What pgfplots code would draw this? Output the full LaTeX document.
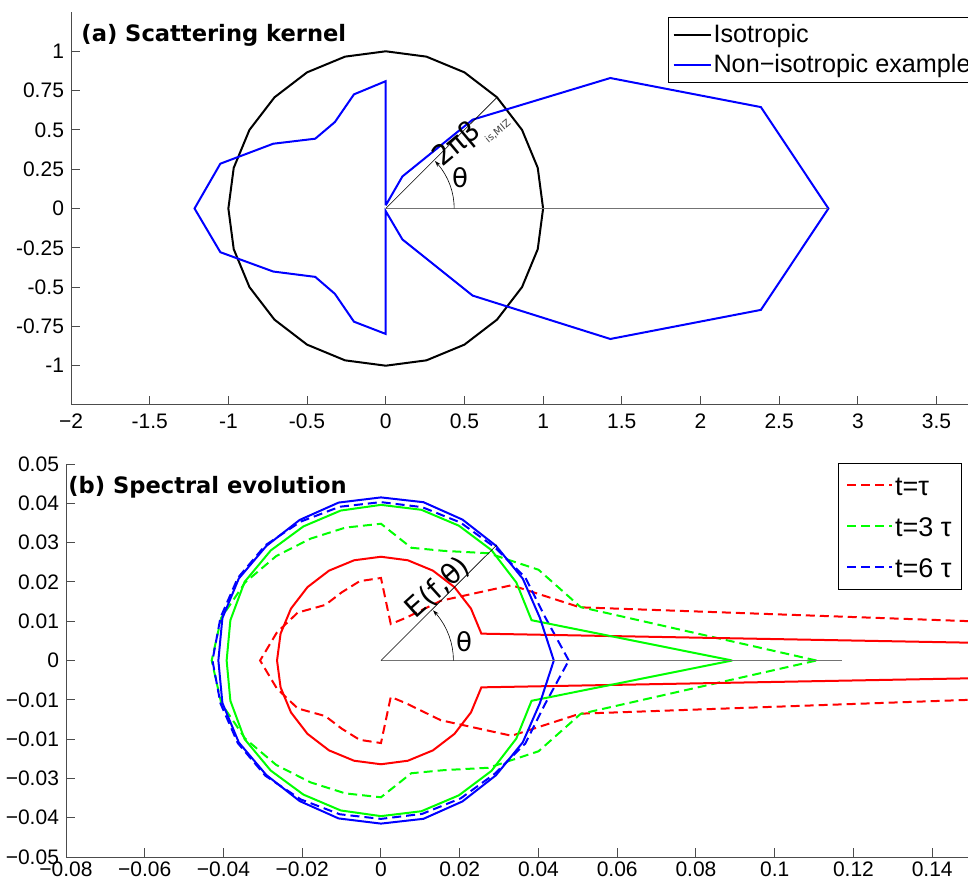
\documentclass[border=0pt]{standalone}
\usepackage{fontspec}
\setmainfont{Liberation Sans}
\newfontfamily\dejavu{DejaVu Sans}
\usepackage{pgfplots}
\pgfplotsset{compat=1.18}
\usetikzlibrary{arrows.meta}
\definecolor{axgray}{gray}{0.3}
\definecolor{refgray}{gray}{0.45}
\begin{document}
\begin{tikzpicture}
\path[use as bounding box] (0,0) rectangle (484pt,-440.5pt);
\pgfplotsset{
  mystyle/.style={
    scale only axis,
    axis x line*=bottom, axis y line*=left,
    axis line style={color=axgray, line width=0.5pt, -},
    tick align=inside,
    major tick length=4.5pt,
    every tick/.style={axgray, line width=0.5pt},
    tick label style={font=\fontsize{10.5}{12}\selectfont, black},
    scaled x ticks=false, scaled y ticks=false,
  },
  mydash/.style={dash pattern=on 4.5pt off 2.5pt},
}
% ---------------- (a) ----------------
\begin{axis}[mystyle, at={(35.5pt,-6pt)}, anchor=north west,
  width=448.5pt, height=196.5pt,
  xmin=-2, xmax=3.7, ymin=-1.25, ymax=1.25,
  xticklabel style={yshift=-1pt},
  xtick={-2,-1.5,-1,-0.5,0,0.5,1,1.5,2,2.5,3,3.5},
  xticklabels={−2,-1.5,-1,-0.5,0,0.5,1,1.5,2,2.5,3,3.5},
  ytick={-1,-0.75,-0.5,-0.25,0,0.25,0.5,0.75,1},
  yticklabels={-1,-0.75,-0.5,-0.25,0,0.25,0.5,0.75,1},
  legend style={at={(rel axis cs:0.6656,0.987)}, anchor=north west,
    draw=black, line width=0.5pt, fill=white,
    font=\fontsize{12.6}{14}\selectfont, inner sep=2pt, row sep=1.5pt,
    nodes={inner sep=1pt, text height=9.5pt, text depth=2pt}},
  legend cell align=left,
  legend image code/.code={\draw[#1] (0pt,0pt) -- (18.5pt,0pt);},
]
\addplot[black, line width=1pt, data cs=polar] coordinates {
(0,1)(15,1)(30,1)(45,1)(60,1)(75,1)(90,1)(105,1)(120,1)(135,1)(150,1)(165,1)
(180,1)(195,1)(210,1)(225,1)(240,1)(255,1)(270,1)(285,1)(300,1)(315,1)(330,1)(345,1)(360,1)};
\addlegendentry{Isotropic}
\addplot[blue, line width=1pt] coordinates {
(0,0.02)(0.106,0.204)(0.552,0.565)(1.427,0.83)(2.384,0.645)(2.813,0)
(2.384,-0.645)(1.427,-0.83)(0.552,-0.554)(0.106,-0.197)(0,-0.017)(0,-0.798)
(-0.202,-0.72)(-0.323,-0.543)(-0.448,-0.435)(-0.715,-0.401)(-1.051,-0.278)(-1.215,0)
(-1.051,0.285)(-0.715,0.412)(-0.448,0.444)(-0.323,0.55)(-0.202,0.726)(0,0.81)(0,0.02)};
\addlegendentry{Non−isotropic example}
\addplot[refgray, line width=0.6pt, forget plot] coordinates {(0,0)(2.813,0)};
\addplot[black, line width=0.3pt, forget plot] coordinates {(0,0)(0.707,0.707)};
\addplot[black, line width=0.3pt, forget plot, data cs=polar, -{Stealth[length=3pt,width=2pt]}] coordinates {
(0,0.435)(5,0.435)(10,0.435)(15,0.435)(20,0.435)(25,0.435)(30,0.435)(35,0.435)(40,0.435)(44,0.435)};
\node[inner sep=0pt, anchor=base west, font=\dejavu\bfseries\fontsize{11.3}{13}\selectfont]
  at (axis cs:-1.936,1.064) {(a) Scattering kernel};
\node[inner sep=0pt, rotate=40, font=\dejavu\fontsize{14}{16}\selectfont] at (axis cs:0.455,0.405) {2πβ};
\node[inner sep=0pt, rotate=40, font=\dejavu\fontsize{5}{6}\selectfont, text=black!75] at (axis cs:0.713,0.49) {is,MIZ};
\node[inner sep=0pt, font=\dejavu\fontsize{13}{15}\selectfont] at (axis cs:0.473,0.196) {θ};
\end{axis}
% ---------------- (b) ----------------
\begin{axis}[mystyle, at={(33pt,-232pt)}, anchor=north west,
  width=451pt, height=196.5pt,
  xmin=-0.08, xmax=0.1491, ymin=-0.05, ymax=0.05,
  xticklabel style={yshift=1.2pt},
  xtick={-0.08,-0.06,-0.04,-0.02,0,0.02,0.04,0.06,0.08,0.1,0.12,0.14},
  xticklabels={−0.08,−0.06,−0.04,−0.02,0,0.02,0.04,0.06,0.08,0.1,0.12,0.14},
  ytick={-0.05,-0.04,-0.03,-0.02,-0.01,0,0.01,0.02,0.03,0.04,0.05},
  yticklabels={−0.05,−0.04,−0.03,−0.01,−0.01,0,0.01,0.02,0.03,0.04,0.05},
  legend style={at={(rel axis cs:0.8555,1.003)}, anchor=north west,
    draw=black, line width=0.5pt, fill=white,
    font=\fontsize{13.5}{16}\selectfont, inner sep=4pt, row sep=6.5pt,
    nodes={inner sep=1pt, text height=11pt, text depth=1pt}},
  legend cell align=left,
  legend image code/.code={\draw[#1] (0pt,0pt) -- (22.5pt,0pt);},
]
\addplot[red, line width=1pt, mydash, data cs=polar] coordinates {
(0,0.430)(15,0.0523)(30,0.0383)(45,0.0215)(60,0.0125)(75,0.0096)(90,0.0210)
(105,0.0209)(120,0.0200)(135,0.0200)(150,0.0244)(165,0.0274)(180,0.0307)
(195,0.0274)(210,0.0244)(225,0.0200)(240,0.0200)(255,0.0209)(270,0.0210)
(285,0.0096)(300,0.0125)(315,0.0215)(330,0.0383)(345,0.0523)(360,0.430)};
\addlegendentry{t=τ}
\addplot[green, line width=1pt, mydash, data cs=polar] coordinates {
(0,0.1106)(15,0.0525)(30,0.0462)(45,0.0386)(60,0.0322)(75,0.0297)(90,0.0348)
(105,0.0350)(120,0.0358)(135,0.0376)(150,0.0398)(165,0.0420)(180,0.0430)
(195,0.0420)(210,0.0398)(225,0.0376)(240,0.0358)(255,0.0350)(270,0.0348)
(285,0.0297)(300,0.0322)(315,0.0386)(330,0.0462)(345,0.0525)(360,0.1106)};
\addlegendentry{t=3 τ}
\addplot[blue, line width=1pt, mydash, data cs=polar] coordinates {
(0,0.0477)(15,0.0431)(30,0.0423)(45,0.0408)(60,0.0405)(75,0.0404)(90,0.0403)
(105,0.0405)(120,0.0408)(135,0.0415)(150,0.0420)(165,0.0422)(180,0.0428)
(195,0.0422)(210,0.0420)(225,0.0415)(240,0.0408)(255,0.0405)(270,0.0403)
(285,0.0404)(300,0.0405)(315,0.0408)(330,0.0423)(345,0.0431)(360,0.0477)};
\addlegendentry{t=6 τ}
\addplot[red, line width=1pt, forget plot, data cs=polar] coordinates {
(0,0.394)(15,0.0264)(30,0.0264)(45,0.0264)(60,0.0264)(75,0.0264)(90,0.0264)
(105,0.0264)(120,0.0264)(135,0.0264)(150,0.0264)(165,0.0264)(180,0.0264)
(195,0.0264)(210,0.0264)(225,0.0264)(240,0.0264)(255,0.0264)(270,0.0264)
(285,0.0264)(300,0.0264)(315,0.0264)(330,0.0264)(345,0.0264)(360,0.394)};
\addplot[green, line width=1pt, forget plot, data cs=polar] coordinates {
(0,0.0892)(15,0.0396)(30,0.0397)(45,0.0397)(60,0.0396)(75,0.0397)(90,0.0396)
(105,0.0395)(120,0.0394)(135,0.0396)(150,0.0400)(165,0.0396)(180,0.0392)
(195,0.0396)(210,0.0400)(225,0.0396)(240,0.0394)(255,0.0395)(270,0.0396)
(285,0.0397)(300,0.0396)(315,0.0397)(330,0.0397)(345,0.0396)(360,0.0892)};
\addplot[blue, line width=1pt, forget plot, data cs=polar] coordinates {
(0,0.0439)(15,0.0418)(30,0.0416)(45,0.0413)(60,0.0414)(75,0.0417)(90,0.0415)
(105,0.0416)(120,0.0413)(135,0.0412)(150,0.0417)(165,0.0417)(180,0.0413)
(195,0.0417)(210,0.0417)(225,0.0412)(240,0.0413)(255,0.0416)(270,0.0415)
(285,0.0417)(300,0.0414)(315,0.0413)(330,0.0416)(345,0.0418)(360,0.0439)};
\addplot[refgray, line width=0.6pt, forget plot] coordinates {(0,0)(0.117,0)};
\addplot[black, line width=0.3pt, forget plot] coordinates {(0,0)(0.0294,0.0294)};
\addplot[black, line width=0.3pt, forget plot, data cs=polar, -{Stealth[length=3pt,width=2pt]}] coordinates {
(0,0.0184)(5,0.0184)(10,0.0184)(15,0.0184)(20,0.0184)(25,0.0184)(30,0.0184)(35,0.0184)(40,0.0184)(44,0.0184)};
\node[inner sep=0pt, anchor=base west, font=\dejavu\bfseries\fontsize{11.3}{13}\selectfont]
  at (axis cs:-0.0795,0.0425) {(b) Spectral evolution};
\node[inner sep=0pt, rotate=42, font=\dejavu\fontsize{14}{16}\selectfont] at (axis cs:0.0145,0.0185) {E(f,θ)};
\node[inner sep=0pt, font=\dejavu\fontsize{13}{15}\selectfont] at (axis cs:0.0211,0.0049) {θ};
\end{axis}
\end{tikzpicture}
\end{document}
